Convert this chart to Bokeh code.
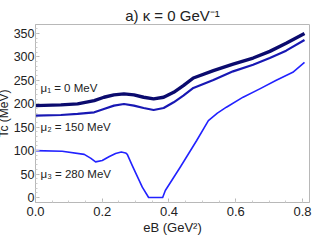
from bokeh.plotting import figure
from bokeh.models import Range1d, Label, FixedTicker
from bokeh.embed import file_html
from bokeh.resources import INLINE

# data
eb1 = [0.0, 0.076, 0.126, 0.176, 0.205, 0.235, 0.265, 0.295, 0.324, 0.354, 0.384, 0.414,
       0.443, 0.473, 0.533, 0.592, 0.652, 0.702, 0.751, 0.806]
tc1 = [196, 197.5, 199.6, 206.7, 213.8, 218.8, 220.9, 218.8, 213.8, 210.3, 213.8, 224.4,
       238.6, 254.9, 270.5, 284.7, 297.5, 311.7, 328.8, 350]
eb2 = [0.0, 0.076, 0.126, 0.176, 0.205, 0.235, 0.265, 0.295, 0.324, 0.354, 0.384, 0.414,
       0.443, 0.473, 0.533, 0.592, 0.652, 0.702, 0.751, 0.806]
tc2 = [174.6, 176, 178.2, 181.7, 188.8, 195.9, 199.4, 195.9, 190.9, 186.7, 190.9, 203,
       217.2, 233.6, 250.6, 269.1, 283.3, 297.5, 313.2, 335.9]
eb3 = [0.0, 0.08, 0.146, 0.165, 0.18, 0.2, 0.22, 0.24, 0.257, 0.27, 0.275, 0.29, 0.305,
       0.32, 0.339, 0.381, 0.389, 0.434, 0.483, 0.518, 0.545, 0.572, 0.622, 0.672, 0.72,
       0.771, 0.806]
tc3 = [100, 98.5, 92, 84, 76, 79, 87, 94, 97, 95, 92, 68, 45,
       22, 0, 0, 15, 65, 121.5, 164, 180, 192.6, 214, 231.7, 249.5,
       267, 288]
x_ticks = [0.0, 0.2, 0.4, 0.6, 0.8]
x_minor = [round(i * 0.05, 2) for i in range(17)]
y_ticks = [0, 50, 100, 150, 200, 250, 300, 350]
y_minor = list(range(0, 370, 10))
title_text = "a) \u03ba = 0 GeV\u207b\u00b9"
x_label = "eB (GeV\u00b2)"
y_label = "Tc (MeV)"
labels = ["\u03bc\u2081 = 0 MeV", "\u03bc\u2082 = 150 MeV", "\u03bc\u2083 = 280 MeV"]
label_y = [234, 151, 51]

FONT = "Liberation Sans"
TXT = "#222222"
FRAME = "#b8b8b8"

p = figure(width=321, height=240, output_backend="svg", toolbar_location=None,
           x_range=Range1d(0, 0.821), y_range=Range1d(-10.7, 369),
           min_border_left=40, min_border_right=5, min_border_top=24, min_border_bottom=38)
p.styles = {"margin-left": "-7px", "margin-bottom": "-8px", "margin-right": "-8px"}
p.xgrid.visible = False
p.ygrid.visible = False
p.outline_line_color = FRAME
p.background_fill_color = "white"
p.border_fill_color = "white"

p.title.text = title_text
p.title.align = "center"
p.title.text_font = FONT
p.title.text_font_size = "15px"
p.title.text_font_style = "normal"
p.title.text_color = TXT
p.title.standoff = 1

for ax in p.xaxis:
    ax.ticker = FixedTicker(ticks=x_ticks, minor_ticks=x_minor)
    ax.major_label_overrides = {t: f"{t:.1f}" for t in x_ticks}
    ax.major_label_standoff = 4
    ax.axis_label = x_label
    ax.axis_label_standoff = 1
    ax.axis_label_text_font_size = "13px"
    ax.major_label_text_font_size = "13px"
for ax in p.yaxis:
    ax.ticker = FixedTicker(ticks=y_ticks, minor_ticks=y_minor)
    ax.major_label_standoff = 1
    ax.axis_label = y_label
    ax.axis_label_standoff = 0
    ax.axis_label_text_font_size = "12px"
    ax.major_label_text_font_size = "12.5px"
for ax in list(p.xaxis) + list(p.yaxis):
    ax.axis_line_color = FRAME
    ax.major_tick_in = 4
    ax.major_tick_out = 0
    ax.minor_tick_in = 2
    ax.minor_tick_out = 0
    ax.major_tick_line_color = FRAME
    ax.minor_tick_line_color = "#cccccc"
    ax.major_label_text_font = FONT
    ax.major_label_text_color = TXT
    ax.axis_label_text_font = FONT
    ax.axis_label_text_font_style = "normal"
    ax.axis_label_text_color = TXT

p.line(eb1, tc1, line_color="#0b0b6e", line_width=3.4, line_join="round")
p.line(eb2, tc2, line_color="#1818b4", line_width=2.2, line_join="round")
p.line(eb3, tc3, line_color="#2222ff", line_width=1.6, line_join="round")

for txt, yv in zip(labels, label_y):
    p.add_layout(Label(x=0.015, y=yv, text=txt, text_font=FONT, text_font_size="11.5px",
                       text_baseline="middle", text_align="left", text_color=TXT))

open("out.html", "w").write(file_html(p, INLINE))
